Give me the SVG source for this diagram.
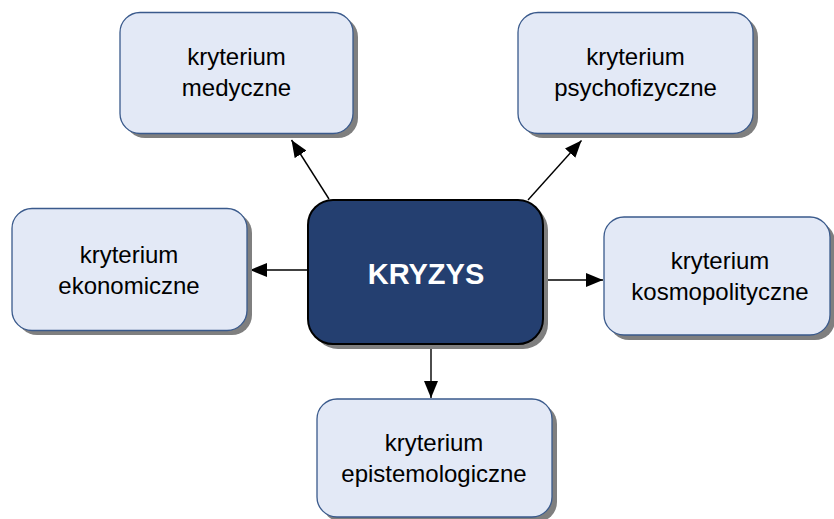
<svg xmlns="http://www.w3.org/2000/svg" width="834" height="519" viewBox="0 0 834 519">
<style>
.shadow{fill:#7f7f7f}
.box{fill:#e3e9f6;stroke:#3a5a8c;stroke-width:1.3}
.core{fill:#243f70;stroke:#000;stroke-width:2}
.t{font-family:"Liberation Sans",Arial,sans-serif;font-size:24px;fill:#000;text-anchor:middle}
.tc{font-family:"Liberation Sans",Arial,sans-serif;font-size:29px;font-weight:bold;fill:#fff;text-anchor:middle}
.edge{stroke:#000;stroke-width:1.4;fill:none;marker-end:url(#ah)}
</style>
<defs>
<marker id="ah" markerUnits="userSpaceOnUse" markerWidth="18" markerHeight="14" refX="17" refY="7" orient="auto">
<path d="M0,0 L17,7 L0,14 Z" fill="#000"/>
</marker>
</defs>
<rect width="834" height="519" fill="#fff"/>
<g id="connectors">
<line class="edge" x1="329" y1="199" x2="291.5" y2="140"/>
<line class="edge" x1="528" y1="200" x2="581.5" y2="140.5"/>
<line class="edge" x1="308" y1="270" x2="250" y2="270"/>
<line class="edge" x1="543" y1="280" x2="603" y2="280"/>
<line class="edge" x1="431" y1="344" x2="431" y2="398"/>
</g>
<g id="medyczne">
<rect class="shadow" x="125" y="17" width="233" height="121" rx="20"/>
<rect class="box" x="120" y="12.5" width="233" height="121" rx="20"/>
<text class="t" x="236.5" y="65">kryterium</text>
<text class="t" x="236.5" y="96">medyczne</text>
</g>
<g id="psychofizyczne">
<rect class="shadow" x="523" y="17" width="235" height="121" rx="20"/>
<rect class="box" x="518" y="12.5" width="235" height="121" rx="20"/>
<text class="t" x="635.5" y="65">kryterium</text>
<text class="t" x="635.5" y="96">psychofizyczne</text>
</g>
<g id="ekonomiczne">
<rect class="shadow" x="17" y="213" width="235" height="122" rx="20"/>
<rect class="box" x="12" y="208.5" width="235" height="122" rx="20"/>
<text class="t" x="129" y="263">kryterium</text>
<text class="t" x="129" y="294">ekonomiczne</text>
</g>
<g id="kryzys">
<rect class="shadow" x="313" y="205" width="235" height="144" rx="25"/>
<rect class="core" x="308" y="200" width="235" height="144" rx="25"/>
<text class="tc" x="426" y="284">KRYZYS</text>
</g>
<g id="kosmopolityczne">
<rect class="shadow" x="609" y="222" width="226" height="118" rx="20"/>
<rect class="box" x="604" y="217" width="226" height="118" rx="20"/>
<text class="t" x="720" y="269">kryterium</text>
<text class="t" x="720" y="300">kosmopolityczne</text>
</g>
<g id="epistemologiczne">
<rect class="shadow" x="322" y="404" width="235" height="118" rx="20"/>
<rect class="box" x="317" y="399" width="235" height="118" rx="20"/>
<text class="t" x="434" y="451">kryterium</text>
<text class="t" x="434" y="482">epistemologiczne</text>
</g>
</svg>
